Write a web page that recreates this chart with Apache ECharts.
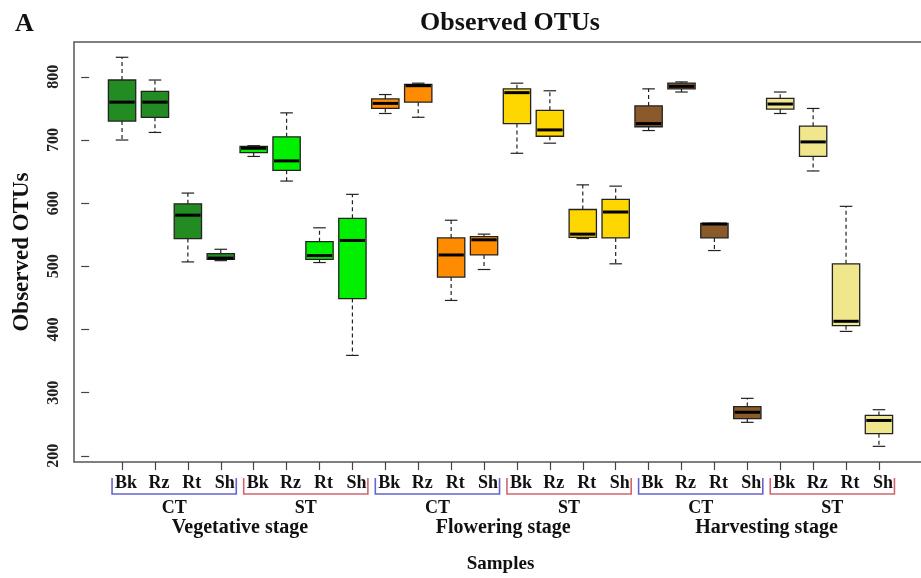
<!DOCTYPE html>
<html>
<head>
<meta charset="utf-8">
<script src="https://cdn.jsdelivr.net/npm/echarts@6/dist/echarts.min.js"></script>
<style>
  html, body { margin: 0; padding: 0; background: #fff; }
  #chart { width: 921px; height: 578px; }
</style>
</head>
<body>
<div id="chart"></div>
<script>
// Sample structure
const stages = ['Vegetative stage', 'Flowering stage', 'Harvesting stage'];
const treatments = ['CT', 'ST'];
const tissues = ['Bk', 'Rz', 'Rt', 'Sh'];
const yTicks = [200, 300, 400, 500, 600, 700, 800];

// Observed OTUs, five-number summaries [min, Q1, median, Q3, max] for Bk, Rz, Rt, Sh
const vegetativeCT = [[700, 730, 760, 795, 831], [712, 736, 760, 777, 795], [507, 544, 581, 599, 616], [509, 511, 513, 520, 527]];
const vegetativeST = [[674, 680, 687, 690, 691], [635, 652, 667, 705, 743], [506, 511, 517, 539, 561], [359, 449, 541, 576, 614]];
const floweringCT = [[742, 750, 758, 765, 772], [736, 760, 786, 788, 790], [446, 483, 518, 545, 573], [495, 518, 542, 547, 551]];
const floweringST = [[679, 726, 775, 781, 790], [695, 706, 716, 747, 778], [544, 546, 551, 590, 629], [504, 545, 586, 606, 627]];
const harvestingCT = [[715, 721, 726, 754, 781], [776, 781, 785, 790, 792], [525, 545, 567, 568, 568], [253, 259, 269, 278, 291]];
const harvestingST = [[742, 749, 757, 766, 776], [651, 674, 697, 722, 750], [397, 406, 413, 504, 595], [215, 235, 256, 264, 273]];

const groups = [vegetativeCT, vegetativeST, floweringCT, floweringST, harvestingCT, harvestingST];
const groupColors = ['#228B22', '#00F000', '#FF8C00', '#FFD700', '#8B5A2B', '#F0E68C'];

const SERIF = '"Liberation Serif", "DejaVu Serif", serif';
const xPositions = [];
const boxData = [];
groups.forEach((g, gi) => {
  g.forEach((stats, ti) => {
    const x = gi * tissues.length + ti + 1;
    xPositions.push(x);
    boxData.push([x].concat(stats).concat([gi]));
  });
});

function renderBox(params, api) {
  const x = api.value(0);
  const pMin = api.coord([x, api.value(1)]);
  const pQ1 = api.coord([x, api.value(2)]);
  const pMed = api.coord([x, api.value(3)]);
  const pQ3 = api.coord([x, api.value(4)]);
  const pMax = api.coord([x, api.value(5)]);
  const w = api.size([0.83, 0])[0];
  const cap = w * 0.23;
  const cx = pMed[0];
  const fill = groupColors[api.value(6)];
  const whisker = { stroke: '#222', lineWidth: 1.2, lineDash: [4, 3] };
  const solid = { stroke: '#222', lineWidth: 1.2 };
  return {
    type: 'group',
    children: [
      { type: 'line', shape: { x1: cx, y1: pQ3[1], x2: cx, y2: pMax[1] }, style: whisker },
      { type: 'line', shape: { x1: cx, y1: pQ1[1], x2: cx, y2: pMin[1] }, style: whisker },
      { type: 'line', shape: { x1: cx - cap, y1: pMax[1], x2: cx + cap, y2: pMax[1] }, style: solid },
      { type: 'line', shape: { x1: cx - cap, y1: pMin[1], x2: cx + cap, y2: pMin[1] }, style: solid },
      { type: 'rect', shape: { x: cx - w / 2, y: pQ3[1], width: w, height: pQ1[1] - pQ3[1] },
        style: { fill: fill, stroke: '#222', lineWidth: 1.3 } },
      { type: 'line', shape: { x1: cx - w / 2 + 1, y1: pMed[1], x2: cx + w / 2 - 1, y2: pMed[1] },
        style: { stroke: '#000', lineWidth: 3 } }
    ]
  };
}

const chart = echarts.init(document.getElementById('chart'), null, { renderer: 'canvas' });

chart.setOption({
  backgroundColor: '#fff',
  animation: false,
  title: [
    { text: 'Observed OTUs', left: 505, top: 5, textAlign: 'center',
      textStyle: { fontFamily: SERIF, fontWeight: 'bold', fontSize: 26, color: '#111' } },
    { text: 'A', left: 10, top: 6,
      textStyle: { fontFamily: SERIF, fontWeight: 'bold', fontSize: 26, color: '#111' } }
  ],
  grid: {
    left: 74, right: -6, top: 42, bottom: 116,
    show: true, borderColor: '#555', borderWidth: 1.5, backgroundColor: 'transparent',
    containLabel: false, outerBoundsMode: 'none'
  },
  xAxis: {
    type: 'value', min: -0.46, max: 25.46,
    name: 'Samples', nameLocation: 'middle', nameGap: 93,
    nameTextStyle: { fontFamily: SERIF, fontWeight: 'bold', fontSize: 19, color: '#111' },
    axisLine: { show: false },
    splitLine: { show: false },
    axisTick: { show: true, length: 8, customValues: xPositions, lineStyle: { color: '#444', width: 1.2 } },
    axisLabel: {
      customValues: xPositions, margin: 12, padding: [0, 0, 0, 8],
      formatter: v => tissues[(Math.round(v) - 1) % tissues.length],
      fontFamily: SERIF, fontWeight: 'bold', fontSize: 18, color: '#111'
    }
  },
  yAxis: {
    type: 'value', min: 190.2, max: 855.2,
    name: 'Observed OTUs', nameLocation: 'middle', nameGap: 40,
    nameTextStyle: { fontFamily: SERIF, fontWeight: 'bold', fontSize: 23, color: '#111' },
    axisLine: { show: false },
    splitLine: { show: false },
    axisTick: { show: true, length: 8, customValues: yTicks, lineStyle: { color: '#444', width: 1.2 } },
    axisLabel: {
      customValues: yTicks, rotate: 90, margin: 12,
      fontFamily: SERIF, fontWeight: 'bold', fontSize: 16, color: '#222'
    }
  },
  series: [{
    type: 'custom',
    name: 'Observed OTUs',
    renderItem: renderBox,
    encode: { x: 0, y: [1, 2, 3, 4, 5] },
    data: boxData,
    z: 3
  }]
});

// Treatment brackets and stage labels beneath the tissue labels
const px = v => chart.convertToPixel({ xAxisIndex: 0 }, v);
const bracketColors = { CT: '#6464D2', ST: '#D2646E' };
const graphics = [];
stages.forEach((stage, si) => {
  let stageLeft = null, stageRight = null;
  treatments.forEach((tr, ti) => {
    const first = si * 8 + ti * 4 + 1;
    const last = first + tissues.length - 1;
    const xl = px(first) - 10;
    const xr = px(last) + 15.5;
    if (stageLeft === null) stageLeft = xl;
    stageRight = xr;
    graphics.push({
      type: 'polyline', silent: true,
      shape: { points: [[xl, 478], [xl, 494], [xr, 494], [xr, 478]] },
      style: { stroke: bracketColors[tr], lineWidth: 1.6, fill: null }
    });
    graphics.push({
      type: 'text', silent: true, x: (xl + xr) / 2, y: 508,
      style: { text: tr, align: 'center', verticalAlign: 'middle',
        fontFamily: SERIF, fontWeight: 'bold', fontSize: 18, fill: '#111' }
    });
  });
  graphics.push({
    type: 'text', silent: true, x: (stageLeft + stageRight) / 2, y: 527.5,
    style: { text: stage, align: 'center', verticalAlign: 'middle',
      fontFamily: SERIF, fontWeight: 'bold', fontSize: 20, fill: '#111' }
  });
});
chart.setOption({ graphic: graphics });
</script>
</body>
</html>
